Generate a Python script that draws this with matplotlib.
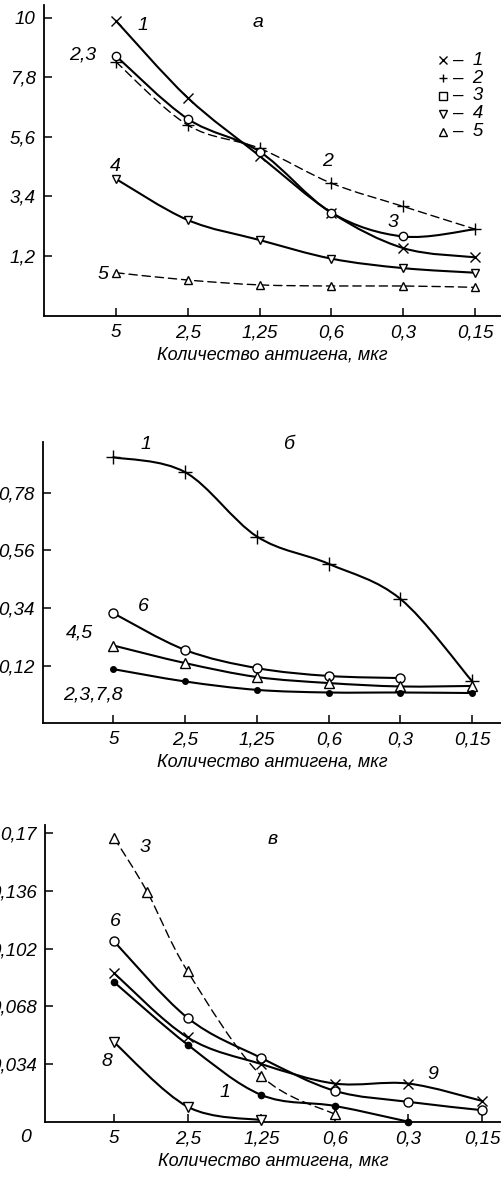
import numpy as np
import matplotlib
matplotlib.use("Agg")
import matplotlib.pyplot as plt
from matplotlib.path import Path
from matplotlib.patches import PathPatch

plt.rcParams.update({"font.family": ["Liberation Sans", "DejaVu Sans"],
                     "font.style": "italic", "font.size": 12})

DOSES = ["5", "2,5", "1,25", "0,6", "0,3", "0,15"]
X = [0, 1, 2, 3, 4, 5]

# panel a
A_TICKS = [1.2, 3.4, 5.6, 7.8, 10]
A1 = [9.9, 7.05, 4.9, 2.8, 1.49, 1.15]
A2 = [8.38, 6.04, 5.18, 3.89, 3.03, 2.19]
A3 = [8.6, 6.27, 5.06, 2.80, 1.92, 2.19]
A4 = [4.05, 2.53, 1.79, 1.10, 0.75, 0.58]
A5 = [0.58, 0.31, 0.13, 0.09, 0.09, 0.04]

# panel b
B_TICKS = [0.12, 0.34, 0.56, 0.78]
B1 = [0.915, 0.858, 0.613, 0.509, 0.375, 0.061]
B6 = [0.321, 0.181, 0.112, 0.082, 0.074]
B45 = [0.198, 0.131, 0.078, 0.055, 0.042, 0.044]
B2378 = [0.108, 0.061, 0.029, 0.019, 0.019, 0.017]

# panel v
C_TICKS = [0.034, 0.068, 0.102, 0.136, 0.17]
C3_X = [0, 0.45, 1, 2, 3]
C3 = [0.1674, 0.1355, 0.0886, 0.0271, 0.0044]
C6 = [0.1063, 0.0612, 0.0376, 0.0182, 0.0117, 0.0068]
C9 = [0.0876, 0.0497, 0.034, 0.0225, 0.0225, 0.0123]
C1 = [0.0823, 0.0454, 0.0158, 0.0093, 0.0]
C8 = [0.0468, 0.0088, 0.0009]

W, H = 501, 1185


def smooth(ax, xs, ys, lw=1.5, dashed=False):
    # catmull-rom drawn as cubic bezier path
    p = np.column_stack([xs, ys]).astype(float)
    ext = np.vstack([p[0], p, p[-1]])
    verts = [p[0]]
    codes = [Path.MOVETO]
    for i in range(len(p) - 1):
        p0, p1, p2, p3 = ext[i], ext[i + 1], ext[i + 2], ext[i + 3]
        verts += [p1 + (p2 - p0) / 6, p2 - (p3 - p1) / 6, p2]
        codes += [Path.CURVE4] * 3
    patch = PathPatch(Path(verts, codes), fill=False, lw=lw, ec="black",
                      ls=(0, (6, 3.5)) if dashed else "-", clip_on=False,
                      capstyle="round", joinstyle="round")
    ax.add_patch(patch)


def marks(ax, xs, ys, m, ms=6, filled=False):
    ax.plot(xs, ys, ls="none", marker=m, ms=ms, mec="black", mew=1.0,
            mfc="black" if filled else "white", clip_on=False, zorder=3)


def make_ax(fig, left, top, bottom, xlim, ylim, ticks):
    ax = fig.add_axes([left / W, 1 - bottom / H, (W - left) / W, (bottom - top) / H])
    ax.set_xlim(*xlim); ax.set_ylim(*ylim)
    for s in ("top", "right"):
        ax.spines[s].set_visible(False)
    ax.spines["left"].set_linewidth(1.3); ax.spines["bottom"].set_linewidth(1.3)
    ax.set_xticks(X); ax.set_xticklabels(DOSES)
    ax.set_yticks(ticks); ax.set_yticklabels([f"{t:g}".replace(".", ",") for t in ticks])
    ax.tick_params(direction="in", length=6, width=1.1, labelsize=13.5)
    ax.tick_params(axis="x", pad=6)
    ax.tick_params(axis="y", pad=6)
    ax.set_xlabel("Количество антигена, мкг", fontsize=13, labelpad=4)
    ax.patch.set_alpha(0)
    return ax


fig = plt.figure(figsize=(W / 100, H / 100), dpi=100)

# ---------------------------------------------------------------- a
ax = make_ax(fig, 44, 5, 316, (-1.0, 5.36), (-1.02, 10.48), A_TICKS)
smooth(ax, X, A1)
smooth(ax, X, A2, lw=1.0, dashed=True)
smooth(ax, X, A3)
smooth(ax, X, A4)
smooth(ax, X, A5, lw=1.0, dashed=True)
marks(ax, X, A1, "x", ms=7)
marks(ax, X, A2, "+", ms=9)
marks(ax, X[:-1], A3[:-1], "o")
marks(ax, X, A4, "v")
marks(ax, X, A5, "^")
for tx, ty, s in [(0.38, 9.74, "1"), (1.98, 9.82, "а"), (-0.46, 8.63, "2,3"),
                  (-0.01, 4.49, "4"), (-0.18, 0.5, "5"), (2.94, 4.68, "2"),
                  (3.86, 2.42, "3")]:
    ax.text(tx, ty, s, ha="center", va="center", fontsize=14)
for i, m in enumerate(["x", "+", "s", "v", "^"]):
    yy = 8.44 - i * 0.66
    ax.plot([4.55], [yy], ls="none", marker=m, ms=6, mec="black", mfc="white", mew=1.0)
    ax.text(4.68, yy, "–  " + str(i + 1), va="center", ha="left", fontsize=13.5)

# ---------------------------------------------------------------- b
ax = make_ax(fig, 43, 442, 722.7, (-0.98, 5.4), (-0.096, 0.973), B_TICKS)
smooth(ax, X, B1)
smooth(ax, X[:5], B6)
smooth(ax, X, B45)
smooth(ax, X, B2378)
marks(ax, X, B1, "+", ms=10)
marks(ax, X[:5], B6, "o", ms=6.5)
marks(ax, X, B45, "^", ms=6.5)
marks(ax, X, B2378, "o", ms=4, filled=True)
for tx, ty, s in [(0.45, 0.962, "1"), (2.46, 0.962, "б"), (0.42, 0.345, "6"),
                  (-0.47, 0.246, "4,5"), (-0.28, 0.01, "2,3,7,8")]:
    ax.text(tx, ty, s, ha="center", va="center", fontsize=14)

# ---------------------------------------------------------------- v
ax = make_ax(fig, 45, 825, 1121.7, (-0.94, 5.26), (0, 0.175), C_TICKS)
smooth(ax, C3_X, C3, lw=1.0, dashed=True)
smooth(ax, X, C6)
smooth(ax, X, C9)
smooth(ax, X[:5], C1)
smooth(ax, X[:3], C8)
marks(ax, C3_X, C3, "^", ms=6.5)
marks(ax, X, C6, "o", ms=6.5)
marks(ax, X, C9, "x", ms=7)
marks(ax, X[:5], C1, "o", ms=4.5, filled=True)
marks(ax, X[:3], C8, "v", ms=6.5)
for tx, ty, s in [(0.42, 0.162, "3"), (2.16, 0.1667, "в"), (0.01, 0.118, "6"),
                  (-0.1, 0.0354, "8"), (1.51, 0.017, "1"), (4.33, 0.028, "9"),
                  (-1.21, -0.0096, "0")]:
    ax.text(tx, ty, s, ha="center", va="center", fontsize=14, clip_on=False)

fig.savefig("out.png", dpi=100)
